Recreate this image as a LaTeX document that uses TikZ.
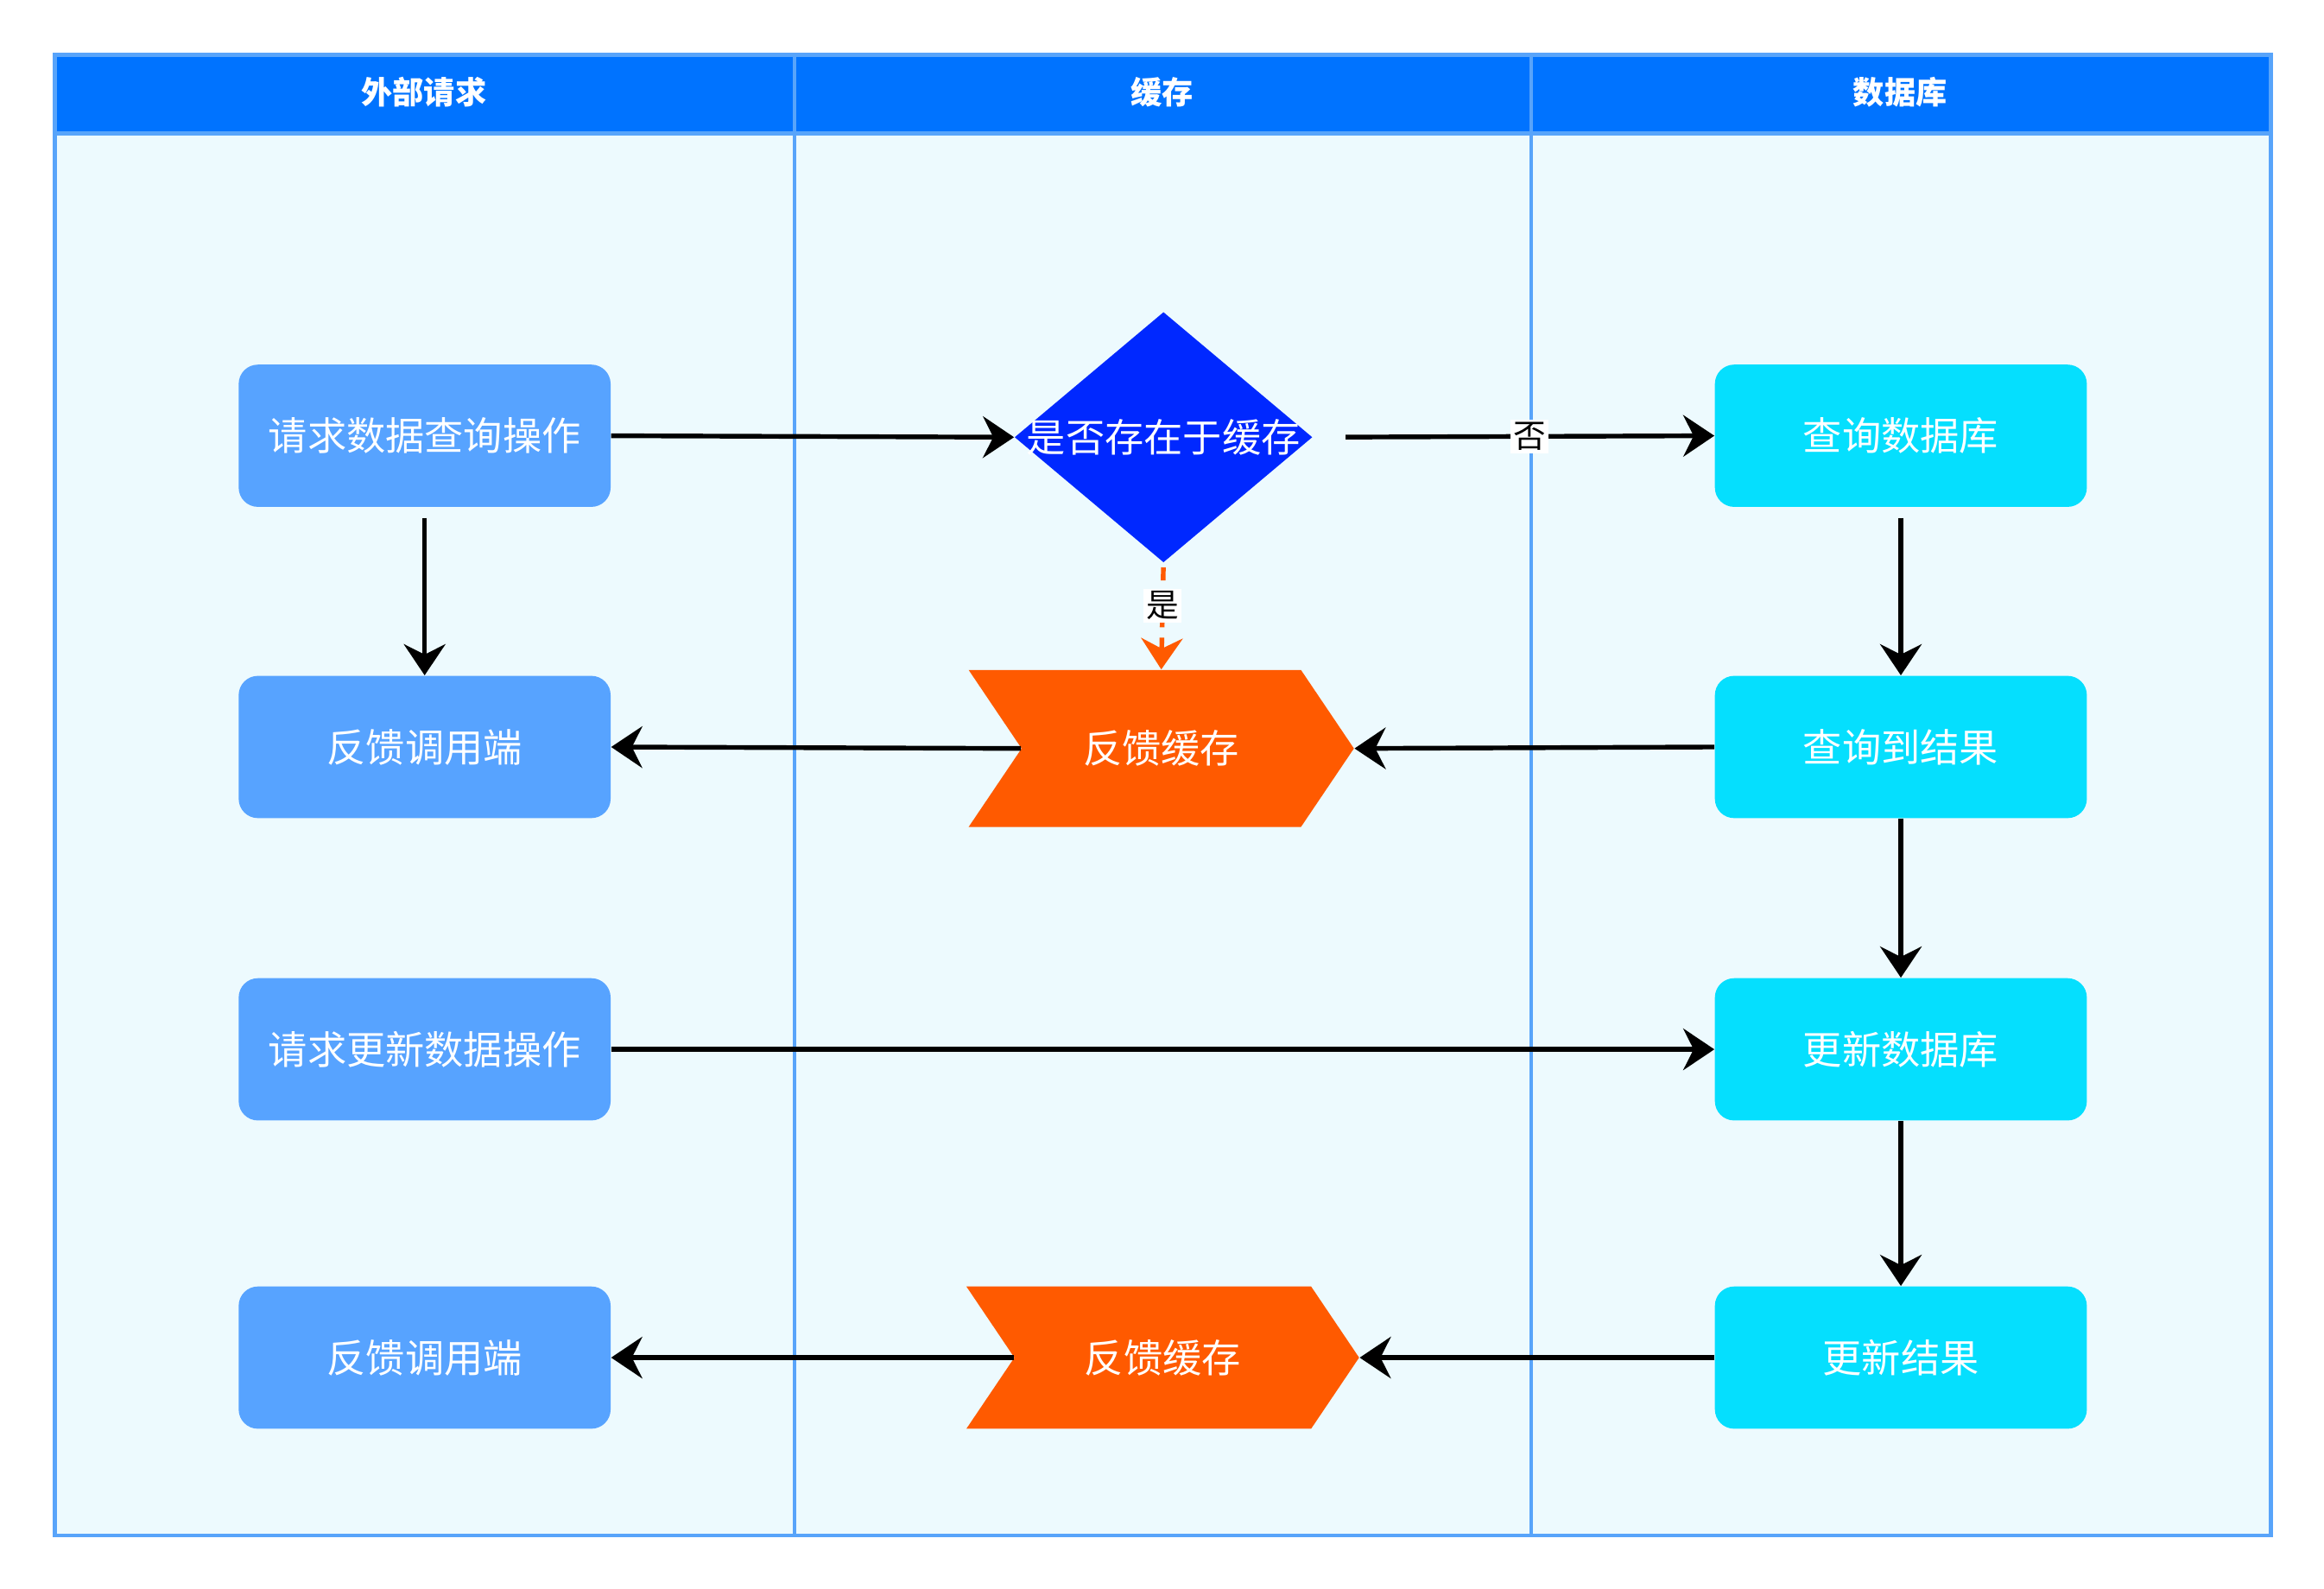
\documentclass[tikz,border=0pt]{standalone}
\usepackage{fontspec}
\setmainfont{Noto Sans CJK SC}
\usetikzlibrary{shapes.geometric,shapes.symbols,arrows.meta}
\usepackage{xcolor}

\definecolor{laneline}{RGB}{88,164,250}
\definecolor{lanebg}{RGB}{237,250,254}
\definecolor{headblue}{RGB}{0,115,255}
\definecolor{reqblue}{RGB}{87,163,255}
\definecolor{dbcyan}{RGB}{5,223,254}
\definecolor{askblue}{RGB}{0,40,255}
\definecolor{backorange}{RGB}{255,90,0}

\tikzset{
  reqbox/.style={rectangle, rounded corners=0.26cm, fill=reqblue, text=white,
    minimum width=5.02cm, minimum height=1.92cm, font=\fontsize{15}{18}\selectfont},
  dbbox/.style={reqbox, fill=dbcyan},
  decide/.style={diamond, fill=askblue, aspect=1.19, inner sep=0pt,
    minimum width=4.02cm, minimum height=3.38cm},
  chev/.style={signal, signal from=west, signal to=east, signal pointer angle=112,
    fill=backorange, text=white, inner sep=0pt,
    minimum width=5.2cm, minimum height=2.12cm, font=\fontsize{15}{18}\selectfont},
  headtxt/.style={text=white, font=\fontsize{12}{14}\selectfont\bfseries},
  flow/.style={line width=1.8pt, -{Stealth[length=4.2mm, width=5.6mm, inset=1.4mm]}},
  yesflow/.style={flow, backorange, dashed, dash pattern=on 5pt off 4pt},
  tag/.style={fill=white, text=black, inner sep=1pt, font=\fontsize{12.5}{14}\selectfont}
}

\begin{document}
\begin{tikzpicture}[x=0.02cm, y=-0.02cm]
\useasboundingbox (0,0) rectangle (1568,1072);
% lanes
\draw[laneline, line width=1.5pt, fill=lanebg] (37,37) rectangle (1532,1036);
\fill[headblue] (37,37) rectangle (1532,90);
\draw[laneline, line width=1.5pt] (37,37) rectangle (1532,1036);
\draw[laneline, line width=1.5pt] (37,90) -- (1532,90);
\foreach \x in {536,1033}
  \draw[laneline, line width=1.5pt] (\x,37) -- (\x,1036);
\node[headtxt] (laneA) at (286,62) {外部请求};
\node[headtxt] (laneB) at (784,62) {缓存};
\node[headtxt] (laneC) at (1282,62) {数据库};

% external requests
\node[reqbox] (askq) at (286.5,294) {请求数据查询操作};
\node[reqbox] (back1) at (286.5,504) {反馈调用端};
\node[reqbox] (asku) at (286.5,708) {请求更新数据操作};
\node[reqbox] (back2) at (286.5,916) {反馈调用端};

% cache
\node[decide] (hit) at (785,295) {};
\node[text=white, font=\fontsize{15}{18}\selectfont] (hittxt) at (hit) {是否存在于缓存};
\node[chev] (cache1) at (783.5,505) {反馈缓存};
\node[chev, minimum width=5.3cm, minimum height=1.92cm] (cache2) at (784.5,916) {反馈缓存};

% database
\node[dbbox] (dbq) at (1282.5,294) {查询数据库};
\node[dbbox] (dbres) at (1282.5,504) {查询到结果};
\node[dbbox] (dbu) at (1282.5,708) {更新数据库};
\node[dbbox] (dbures) at (1282.5,916) {更新结果};

% connectors
\draw[flow] (askq.east) -- (hit.west);
\draw[flow, shorten <=0.44cm] (hit.east) -- node[tag, pos=0.54] (no) {否} (dbq.west);
\draw[yesflow, shorten <=0.06cm] (hit.south) -- node[tag, pos=0.4] (yes) {是} (cache1.north);
\draw[flow, shorten <=0.14cm] (askq.south) -- (back1.north);
\draw[flow, shorten <=0.14cm] (dbq.south) -- (dbres.north);
\draw[flow] (dbres.west) -- (cache1.east);
\draw[flow] (cache1.west) -- (back1.east);
\draw[flow] (dbres.south) -- (dbu.north);
\draw[flow] (asku.east) -- (dbu.west);
\draw[flow] (dbu.south) -- (dbures.north);
\draw[flow] (dbures.west) -- (cache2.east);
\draw[flow] (cache2.west) -- (back2.east);
\end{tikzpicture}
\end{document}
